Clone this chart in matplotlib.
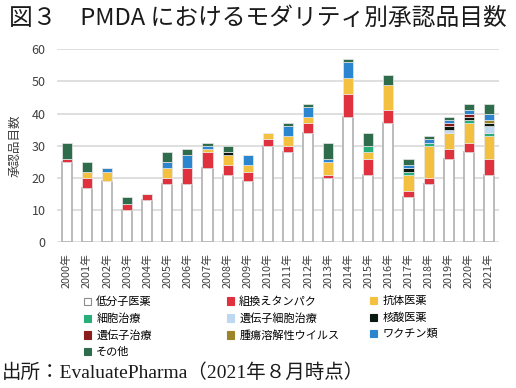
import numpy as np
import matplotlib
matplotlib.use("Agg")
import matplotlib.pyplot as plt
from matplotlib.patches import Patch

plt.rcParams['font.family'] = ['Noto Sans CJK JP', 'DejaVu Sans']

years = [f"{y}年" for y in range(2000, 2022)]

# approvals per modality, 2000-2021
small_molecule = [25, 17, 19, 10, 13, 18, 18, 23, 21, 19, 30, 28, 34, 20, 39, 21, 37, 14, 18, 26, 28, 21]
protein        = [1, 3, 0, 2, 2, 2, 5, 5, 3, 3, 2, 2, 3, 1, 7, 5, 4, 2, 2, 3, 3, 5]
antibody       = [0, 2, 3, 0, 0, 3, 0, 1, 3, 2, 2, 3, 2, 4, 5, 2, 8, 5, 10, 5, 6, 7]
cell_therapy   = [0, 0, 0, 0, 0, 0, 0, 0, 0, 0, 0, 0, 0, 0, 0, 2, 0, 1, 1, 0, 1, 1]
gene_cell      = [0, 0, 0, 0, 0, 0, 0, 0, 0, 0, 0, 0, 0, 0, 0, 0, 0, 0, 0, 1, 0, 2]
nucleic_acid   = [0, 0, 0, 0, 0, 0, 0, 0, 1, 0, 0, 0, 0, 0, 0, 0, 0, 1, 0, 1, 1, 1]
gene_therapy   = [0, 0, 0, 0, 0, 0, 0, 0, 0, 0, 0, 0, 0, 0, 0, 0, 0, 0, 0, 1, 1, 0]
oncolytic      = [0, 0, 0, 0, 0, 0, 0, 0, 0, 0, 0, 0, 0, 0, 0, 0, 0, 0, 0, 0, 0, 1]
vaccine        = [0, 0, 1, 0, 0, 2, 4, 1, 0, 3, 0, 3, 3, 1, 5, 0, 0, 1, 1, 1, 1, 2]
other          = [5, 3, 0, 2, 0, 3, 2, 1, 2, 0, 0, 1, 1, 5, 1, 4, 3, 2, 1, 1, 2, 3]

series = [
    ("低分子医薬", small_molecule, "#ffffff"),
    ("組換えタンパク", protein, "#e0313f"),
    ("抗体医薬", antibody, "#f3c13f"),
    ("細胞治療", cell_therapy, "#27ae7b"),
    ("遺伝子細胞治療", gene_cell, "#bdd8f0"),
    ("核酸医薬", nucleic_acid, "#0b1a10"),
    ("遺伝子治療", gene_therapy, "#8a1c1c"),
    ("腫瘍溶解性ウイルス", oncolytic, "#9c8428"),
    ("ワクチン類", vaccine, "#2c86cf"),
    ("その他", other, "#2f6c4b"),
]

fig = plt.figure(figsize=(5.16, 3.88), dpi=100)
ax = fig.add_axes([0.110, 0.3755, 0.857, 0.4975])

x = np.arange(len(years))
bottom = np.zeros(len(years))
for name, vals, color in series:
    vals = np.array(vals, dtype=float)
    if color == "#ffffff":
        ax.bar(x, vals, 0.5, bottom=bottom, color=color, edgecolor="#b5b5b5",
               linewidth=1.3, zorder=3)
    else:
        ax.bar(x, vals, 0.5, bottom=bottom, color=color, edgecolor="#e8e8e8",
               linewidth=0.5, zorder=3)
    bottom += vals

ax.set_xlim(-0.5, len(years) - 0.5)
ax.set_ylim(0, 60)
ax.set_yticks(range(0, 61, 10))
ax.yaxis.grid(True, color="#d9d9d9", linewidth=1.2, zorder=0)
ax.set_axisbelow(True)
for s in ax.spines.values():
    s.set_visible(False)
ax.tick_params(axis="both", length=0, labelsize=9, colors="#404040")
ax.tick_params(axis="y", pad=8)
ax.set_xticks(x)
ax.set_xticklabels(years, rotation=90, fontsize=7.8, color="#404040")
ax.tick_params(axis="x", pad=8)
ax.set_ylabel("承認品目数", fontsize=9, color="#404040", labelpad=7)

# legend in three columns
cols = [[0, 3, 6, 9], [1, 4, 7], [2, 5, 8]]
col_x = [0.163, 0.440, 0.717]
for xs, idx in zip(col_x, cols):
    handles = []
    for i in idx:
        name, _, color = series[i]
        ec = "#8c8c8c" if color == "#ffffff" else color
        handles.append(Patch(facecolor=color, edgecolor=ec, linewidth=0.8, label=name))
    fig.legend(handles=handles, loc="upper left", bbox_to_anchor=(xs, 0.236),
               frameon=False, fontsize=8, handlelength=0.65, handleheight=0.65,
               handletextpad=0.45, labelspacing=0.55, borderpad=0, borderaxespad=0)

fig.text(0.018, 0.953, "図３　PMDA におけるモダリティ別承認品目数", fontsize=17.1,
         ha="left", va="center", color="#1a1a1a")
fig.text(0.004, 0.040, "出所：EvaluatePharma（2021年８月時点）", fontsize=14,
         ha="left", va="center", color="#1a1a1a",
         family=["Liberation Serif", "Noto Sans CJK JP"])

fig.savefig("out.png", dpi=100)
